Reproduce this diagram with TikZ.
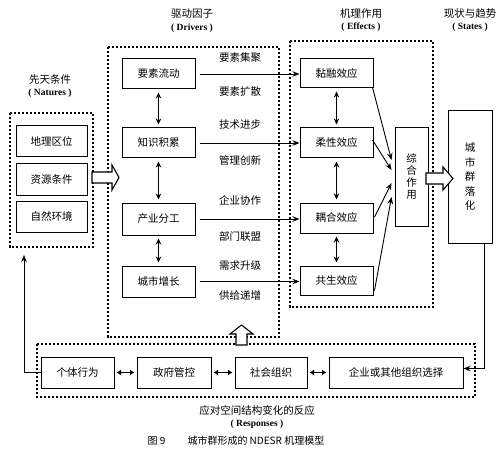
\documentclass[tikz,border=0pt]{standalone}
\usepackage{fontspec}
\setmainfont{Noto Sans CJK SC}
\newfontfamily\latin{Liberation Serif}
\usetikzlibrary{arrows.meta,calc}
\begin{document}
\begin{tikzpicture}[x=1pt,y=-1pt,
  box/.style={draw, line width=1pt, minimum width=73pt, minimum height=30pt, inner sep=0pt, font=\fontsize{10.5}{12}\selectfont},
  dbox/.style={draw, line width=1.1pt, dash pattern=on 2.4pt off 1.6pt},
  lbl/.style={font=\fontsize{10.5}{12}\selectfont, inner sep=0pt},
  ttl/.style={font=\fontsize{10.5}{12}\selectfont, inner sep=0pt},
  sub/.style={font=\latin\bfseries\fontsize{9.5}{11}\selectfont, inner sep=0pt},
  darr/.style={{Stealth[length=6pt,width=5.5pt]}-{Stealth[length=6pt,width=5.5pt]}, line width=1.1pt, shorten <=3pt, shorten >=3pt},
  harr/.style={{Latex[length=4.5pt,width=6pt]}-{Latex[length=4.5pt,width=6pt]}, line width=1.3pt},
  arr/.style={-{Stealth[length=7pt,width=5.5pt]}, line width=0.9pt},
  hollow/.style={draw, line width=1.1pt, fill=white, line join=miter}]
\useasboundingbox (0,0) rectangle (500,457);

% titles
\node[ttl] (tD) at (192,14) {驱动因子};
\node[sub] (sD) at (192,28) {(\ Drivers\ )};
\node[ttl] (tN) at (50,80) {先天条件};
\node[sub] (sN) at (50,93) {(\ Natures\ )};
\node[ttl] (tE) at (361,14) {机理作用};
\node[sub] (sE) at (361,27) {(\ Effects\ )};
\node[ttl] (tS) at (470,14) {现状与趋势};
\node[sub] (sS) at (470,27) {(\ States\ )};

% dashed containers
\draw[dbox] (10,113) rectangle (93,247);
\draw[dbox] (108,47) rectangle (279,337);
\draw[dbox] (290,41) rectangle (433,307);
\draw[dbox] (37,344) rectangle (475,397);
\coordinate (natB) at (24,255);

% natures
\node[box, minimum width=71pt, minimum height=31pt] (n1) at (51.5,141.5) {地理区位};
\node[box, minimum width=71pt, minimum height=31pt] (n2) at (51.5,179.5) {资源条件};
\node[box, minimum width=71pt, minimum height=31pt] (n3) at (51.5,216.5) {自然环境};

% drivers
\node[box] (d1) at (158.5,74) {要素流动};
\node[box] (d2) at (158.5,143) {知识积累};
\node[box, minimum height=32pt] (d3) at (158.5,219) {产业分工};
\node[box, minimum height=31pt] (d4) at (158.5,281.5) {城市增长};

% effects
\node[box, minimum height=29pt] (e1) at (336.5,73.5) {黏融效应};
\node[box] (e2) at (336.5,143) {柔性效应};
\node[box] (e3) at (336.5,218) {耦合效应};
\node[box, minimum height=29pt] (e4) at (336.5,280.5) {共生效应};

% synthesis and states
\node[box, minimum width=33pt, minimum height=98pt, align=center, font=\fontsize{10.5}{12}\selectfont] (zh) at (411.5,177) {综\\合\\作\\用};
\node[box, minimum width=44pt, minimum height=132pt, align=center, font=\fontsize{10.5}{14.5}\selectfont] (st) at (470,177) {城\\市\\群\\落\\化};

% responses
\node[box, minimum height=31pt] (r1) at (77.5,372.5) {个体行为};
\node[box, minimum width=74pt, minimum height=31pt] (r2) at (174,372.5) {政府管控};
\node[box, minimum width=72pt, minimum height=31pt] (r3) at (271,372.5) {社会组织};
\node[box, minimum width=134pt, minimum height=31pt] (r4) at (396,372.5) {企业或其他组织选择};

% labels
\node[lbl] (l1) at (240,58) {要素集聚};
\node[lbl] (l2) at (240,92) {要素扩散};
\node[lbl] (l3) at (240,125) {技术进步};
\node[lbl] (l4) at (240,160) {管理创新};
\node[lbl] (l5) at (240,200) {企业协作};
\node[lbl] (l6) at (240,237) {部门联盟};
\node[lbl] (l7) at (240,266) {需求升级};
\node[lbl] (l8) at (240,296) {供给递增};

% bottom texts
\node[ttl] (tR) at (257,410) {应对空间结构变化的反应};
\node[sub] (sR) at (257,424) {(\ Responses\ )};
\node[font=\fontsize{10}{12}\selectfont, inner sep=0pt] (cap) at (236,441) {图 9\hspace{2.2em}城市群形成的 NDESR 机理模型};

% double arrows
\draw[darr] (d1.south) -- (d2.north);
\draw[darr] (d2.south) -- (d3.north);
\draw[darr] (d3.south) -- (d4.north);
\draw[darr] (e1.south) -- (e2.north);
\draw[darr] (e2.south) -- (e3.north);
\draw[darr] (e3.south) -- (e4.north);
\draw[harr, shorten <=2pt, shorten >=2pt] (r1.east) -- (r2.west);
\draw[harr, shorten <=2pt, shorten >=2pt] (r2.east) -- (r3.west);
\draw[harr, shorten <=2pt, shorten >=2pt] (r3.east) -- (r4.west);

% drivers -> effects
\draw[arr, shorten <=4pt] (d1.east) -- (d1.east -| e1.west);
\draw[arr, shorten <=4pt] (d2.east) -- (d2.east -| e2.west);
\draw[arr, shorten <=4pt] (d3.east) -- (d3.east -| e3.west);
\draw[arr, shorten <=4pt] (d4.east) -- (d4.east -| e4.west);

% effects -> synthesis
\draw[arr] ($(e1.south east)+(-1,-1)$) -- ($(zh.west)+(-3,-17)$);
\draw[arr] ($(e2.east)+(-1,-3)$) -- ($(zh.west)+(-3,-7)$);
\draw[arr] ($(e3.east)+(1,-1)$) -- ($(zh.west)+(-3,6)$);
\draw[arr] ($(e4.south east)+(1,-5)$) -- ($(zh.west)+(-3,20)$);

% feedback lines
\draw[arr] ($(st.south)+(14,0)$) |- ($(r4.east)+(0,-4)$);
\draw[arr] (r1.west) -| (natB);

% hollow arrows
\draw[hollow] (92,172) -- (112,172) -- (112,165) -- (119,177.5) -- (112,190) -- (112,183) -- (92,183) -- cycle;
\draw[hollow] (426,173) -- (443,173) -- (443,167) -- (453,178.5) -- (443,190) -- (443,184) -- (426,184) -- cycle;
\draw[hollow] (236,345) -- (236,334) -- (230,334) -- (241.5,325) -- (253,334) -- (247,334) -- (247,345) -- cycle;
\end{tikzpicture}
\end{document}
